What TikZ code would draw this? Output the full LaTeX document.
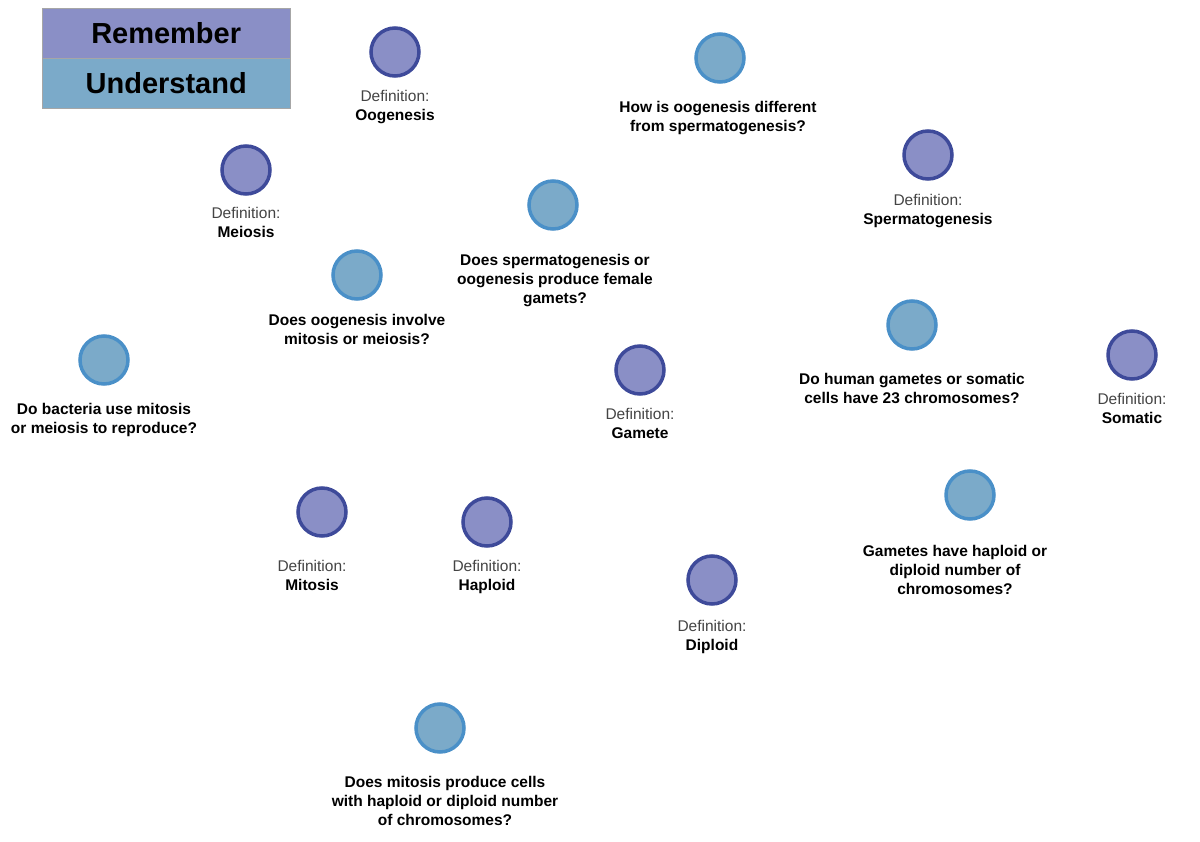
\documentclass[tikz,border=0pt]{standalone}
\usepackage{fontspec}
\setmainfont{Liberation Sans}
\definecolor{remF}{HTML}{8A8FC6}\definecolor{remD}{HTML}{3E4A9A}
\definecolor{undF}{HTML}{7BAAC9}\definecolor{undD}{HTML}{4A90C8}
\definecolor{edge}{HTML}{999999}\definecolor{defg}{HTML}{444444}
\pgfdeclarelayer{bg}\pgfsetlayers{bg,main}
\begin{document}
\begin{tikzpicture}[x=1pt,y=-1pt,
  rem/.style={circle,draw=remD,fill=remF,line width=3.5pt,minimum size=48pt,inner sep=0pt},
  und/.style={circle,draw=undD,fill=undF,line width=3.5pt,minimum size=48pt,inner sep=0pt},
  lab/.style={anchor=north,align=center,font=\fontsize{15.5}{19}\selectfont\bfseries,inner sep=0pt},
  dl/.style={anchor=north,align=center,font=\fontsize{15.5}{19}\selectfont,inner sep=0pt},
  con/.style={draw=edge,line width=2.5pt}]
\useasboundingbox (0,0) rectangle (1200,842);
\fill[white] (0,0) rectangle (1200,842);
% legend
\node[draw=gray!70,fill=remF,minimum width=248pt,minimum height=50pt,anchor=north west,font=\fontsize{29}{34}\selectfont\bfseries] (legR) at (42,8) {Remember};
\node[draw=gray!70,fill=undF,minimum width=248pt,minimum height=50pt,anchor=north west,font=\fontsize{29}{34}\selectfont\bfseries] (legU) at (42,58) {Understand};
% nodes
\node[rem] (oog) at (395,52) {};
\node[und] (qdiff) at (720,58) {};
\node[rem] (spe) at (928,155) {};
\node[und] (qfem) at (553,205) {};
\node[rem] (mei) at (246,170) {};
\node[und] (qinv) at (357,275) {};
\node[und] (qbac) at (104,360) {};
\node[rem] (gam) at (640,370) {};
\node[und] (qhum) at (912,325) {};
\node[rem] (som) at (1132,355) {};
\node[und] (qhap) at (970,495) {};
\node[rem] (hap) at (487,522) {};
\node[rem] (dip) at (712,580) {};
\node[rem] (mit) at (322,512) {};
\node[und] (qmit) at (440,728) {};
% labels
\node[dl] (oogL) at (395,90) {\textcolor{defg}{Definition:}\\\bfseries Oogenesis};
\node[lab] (qdiffL) at (718,101) {How is oogenesis different\\from spermatogenesis?};
\node[dl] (speL) at (928,194) {\textcolor{defg}{Definition:}\\\bfseries Spermatogenesis};
\node[lab] (qfemL) at (555,254) {Does spermatogenesis or\\oogenesis produce female\\gamets?};
\node[dl] (meiL) at (246,207) {\textcolor{defg}{Definition:}\\\bfseries Meiosis};
\node[lab] (qinvL) at (357,314) {Does oogenesis involve\\mitosis or meiosis?};
\node[lab] (qbacL) at (104,403) {Do bacteria use mitosis\\or meiosis to reproduce?};
\node[dl] (gamL) at (640,408) {\textcolor{defg}{Definition:}\\\bfseries Gamete};
\node[lab] (qhumL) at (912,373) {Do human gametes or somatic\\cells have 23 chromosomes?};
\node[dl] (somL) at (1132,393) {\textcolor{defg}{Definition:}\\\bfseries Somatic};
\node[lab] (qhapL) at (955,545) {Gametes have haploid or\\diploid number of\\chromosomes?};
\node[dl] (hapL) at (487,560) {\textcolor{defg}{Definition:}\\\bfseries Haploid};
\node[dl] (dipL) at (712,620) {\textcolor{defg}{Definition:}\\\bfseries Diploid};
\node[dl] (mitL) at (312,560) {\textcolor{defg}{Definition:}\\\bfseries Mitosis};
\node[lab] (qmitL) at (445,776) {Does mitosis produce cells\\with haploid or diploid number\\of chromosomes?};
% label end points
\coordinate (a1) at (383,140);
\coordinate (a2) at (346,356);
\coordinate (a3) at (470,610);
\coordinate (a4) at (616,310);
% edges
\begin{pgfonlayer}{bg}
\draw[con] (oog) -- (qdiff);
\draw[con] (qdiff) -- (spe);
\draw[con] (oog) -- (qfem);
\draw[con] (qfem) -- (spe);
\draw[con] (a1) -- (qinv);
\draw[con] (mei) -- (qinv);
\draw[con] (mei) -- (qbac);
\draw[con] (qbac) -- (mit);
\draw[con] (a2) -- (mit);
\draw[con] (mit) -- (qmit);
\draw[con] (a3) -- (qmit);
\draw[con] (qmit) -- (dip);
\draw[con] (dip) -- (qhap);
\draw[con] (hap) -- (qhap);
\draw[con] (gam) -- (qhap);
\draw[con] (gam) -- (qhum);
\draw[con] (qhum) -- (som);
\draw[con] (a4) -- (gam);
\end{pgfonlayer}
\end{tikzpicture}
\end{document}
